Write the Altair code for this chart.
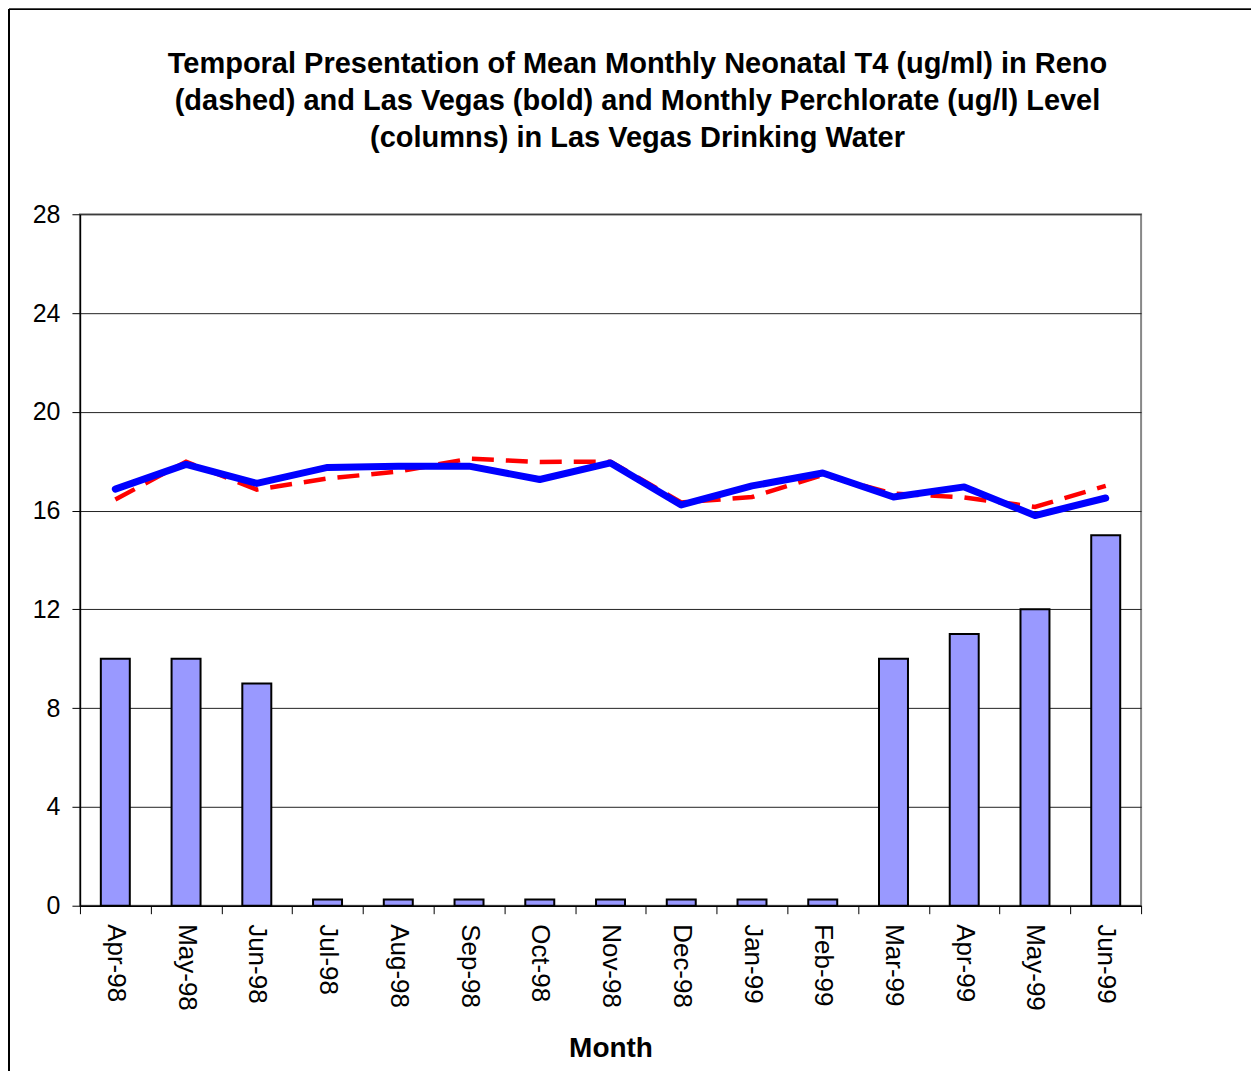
import altair as alt
import pandas as pd

months = ["Apr-98", "May-98", "Jun-98", "Jul-98", "Aug-98", "Sep-98", "Oct-98", "Nov-98",
          "Dec-98", "Jan-99", "Feb-99", "Mar-99", "Apr-99", "May-99", "Jun-99"]
perchlorate = [10, 10, 9, 0.25, 0.25, 0.25, 0.25, 0.25, 0.25, 0.25, 0.25, 10, 11, 12, 15]
las_vegas = [16.87, 17.87, 17.1, 17.75, 17.8, 17.8, 17.26, 17.93, 16.23, 17.0, 17.52, 16.55, 16.96, 15.8, 16.51]
reno = [16.45, 17.98, 16.85, 17.3, 17.58, 18.1, 17.97, 17.98, 16.33, 16.55, 17.44, 16.69, 16.53, 16.15, 17.0]

df = pd.DataFrame({"month": months, "perchlorate": perchlorate,
                   "lasvegas": las_vegas, "reno": reno})

FONT = "Liberation Sans"

x = alt.X("month:N", sort=months,
          scale=alt.Scale(paddingInner=0, paddingOuter=0),
          axis=alt.Axis(title="Month", labelAngle=90, labelFontSize=26, labelFont=FONT,
                        labelColor="black", labelPadding=10, tickSize=8, tickColor="black",
                        tickBand="extent", domainColor="black", domainWidth=1.5,
                        titleFont=FONT, titleFontSize=28, titleFontWeight="bold",
                        titleColor="black", titlePadding=24, grid=False))
y = alt.Y("perchlorate:Q",
          scale=alt.Scale(domain=[0, 28], nice=False),
          axis=alt.Axis(title=None, values=[0, 4, 8, 12, 16, 20, 24, 28], labelFontSize=25,
                        labelFont=FONT, labelColor="black", labelPadding=12, tickSize=8,
                        tickColor="black", domainColor="black", domainWidth=1.5,
                        grid=True, gridColor="#222222", gridWidth=1))

bars = alt.Chart(df).mark_bar(size=29, fill="#9999FF", stroke="black", strokeWidth=2).encode(
    x=x, y=y)

reno_line = alt.Chart(df).mark_line(color="#FF0000", strokeWidth=4.5, strokeDash=[22, 12]).encode(
    x=alt.X("month:N", sort=months), y=alt.Y("reno:Q"))

lv_line = alt.Chart(df).mark_line(color="#0000FF", strokeWidth=7, strokeCap="round",
                                  strokeJoin="round").encode(
    x=alt.X("month:N", sort=months), y=alt.Y("lasvegas:Q"))

frame = alt.Chart(df).mark_rect(fill=None, stroke="black", strokeWidth=1).encode(
    x=alt.value(-71), x2=alt.value(1400), y=alt.value(-205), y2=alt.value(1300))

chart = alt.layer(bars, reno_line, lv_line, frame).properties(
    width=1062, height=692,
    title=alt.TitleParams(
        text=["Temporal Presentation of Mean Monthly Neonatal T4 (ug/ml) in Reno",
              "(dashed) and Las Vegas (bold) and Monthly Perchlorate (ug/l) Level",
              "(columns) in Las Vegas Drinking Water"],
        font=FONT, fontSize=29, fontWeight="bold", color="black", lineHeight=37,
        anchor="middle", frame="group", dx=27, offset=-144),
    autosize=alt.AutoSizeParams(type="none"),
    padding={"left": 72, "top": 206, "right": 110, "bottom": 165},
).configure_view(stroke="#888888", strokeWidth=2)

chart.save("out.html", embed_options={"renderer": "svg", "actions": False})
